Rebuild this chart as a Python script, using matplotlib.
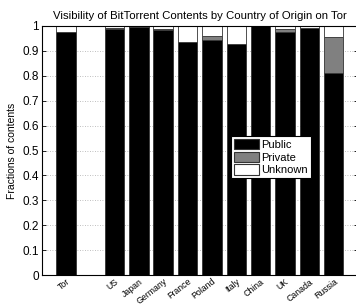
import matplotlib
matplotlib.use("Agg")
import matplotlib.pyplot as plt
import numpy as np
from matplotlib.patches import Patch

categories = ["Tor", "", "US", "Japan", "Germany", "France", "Poland", "Italy", "China", "UK", "Canada", "Russia"]
public = [0.975, 0.0, 0.987, 0.997, 0.985, 0.935, 0.945, 0.928, 1.0, 0.977, 0.990, 0.812]
private = [0.002, 0.0, 0.003, 0.002, 0.001, 0.0, 0.015, 0.0, 0.0, 0.010, 0.002, 0.143]
unknown = [0.023, 0.0, 0.010, 0.001, 0.014, 0.065, 0.040, 0.072, 0.0, 0.013, 0.008, 0.045]
yticks = [0, 0.1, 0.2, 0.3, 0.4, 0.5, 0.6, 0.7, 0.8, 0.9, 1]
ytick_labels = ["0", "0.1", "0.2", "0.3", "0.4", "0.5", "0.6", "0.7", "0.8", "0.9", "1"]

plt.rcParams['font.family'] = ['Liberation Sans', 'DejaVu Sans']

fig = plt.figure(figsize=(3.56, 3.07), dpi=100)
W, H = 356, 307
left, right, top, bottom = 41.5, 358, 26, 275
ax = fig.add_axes([left / W, 1 - bottom / H, (right - left) / W, (bottom - top) / H])

x = np.arange(1, len(categories) + 1)
pub = np.array(public)
pri = np.array(private)
unk = np.array(unknown)
ec = '#333333'
lw = 0.6
w = 0.8
ax.bar(x, pub, w, color='black', edgecolor=ec, linewidth=lw, label='Public', zorder=3)
ax.bar(x, pri, w, bottom=pub, color='#808080', edgecolor=ec, linewidth=lw, label='Private', zorder=3)
ax.bar(x, unk, w, bottom=pub + pri, color='white', edgecolor=ec, linewidth=lw, label='Unknown', zorder=3)

ax.set_xlim(0, 13)
ax.set_ylim(0, 1)
ax.set_yticks(yticks)
ax.set_yticklabels(ytick_labels, fontsize=8.5)
ax.set_xticks(x)
ax.set_xticklabels(categories, rotation=38, ha='right', rotation_mode='anchor', fontsize=6.3)
ax.tick_params(axis='x', length=0, pad=1.5)
ax.tick_params(axis='y', direction='in', length=3, width=0.6, right=True, pad=2)
ax.yaxis.grid(True, linestyle=(0, (1, 2)), color='#aaaaaa', linewidth=0.6, zorder=0)
for s in ax.spines.values():
    s.set_linewidth(0.8)
    s.set_color('black')
    s.set_zorder(4)

ax.set_ylabel('Fractions of contents', fontsize=7.5, labelpad=4)
ax.set_title('Visibility of BitTorrent Contents by Country of Origin on Tor', fontsize=8.2, pad=5)

handles = [Patch(facecolor='black', edgecolor=ec, linewidth=0.8),
           Patch(facecolor='#808080', edgecolor=ec, linewidth=0.8),
           Patch(facecolor='white', edgecolor=ec, linewidth=0.8)]
leg = ax.legend(handles, ['Public', 'Private', 'Unknown'], loc='upper left',
                bbox_to_anchor=((231 - left) / (right - left), (bottom - 136) / (bottom - top)),
                fontsize=8, frameon=True, fancybox=False, edgecolor='black', framealpha=1,
                handlelength=2.3, handleheight=1.1, handletextpad=0.2, borderpad=0.25,
                labelspacing=0.15, borderaxespad=0)
leg.get_frame().set_linewidth(0.8)
leg.set_zorder(5)

fig.savefig('out.png', dpi=100)
